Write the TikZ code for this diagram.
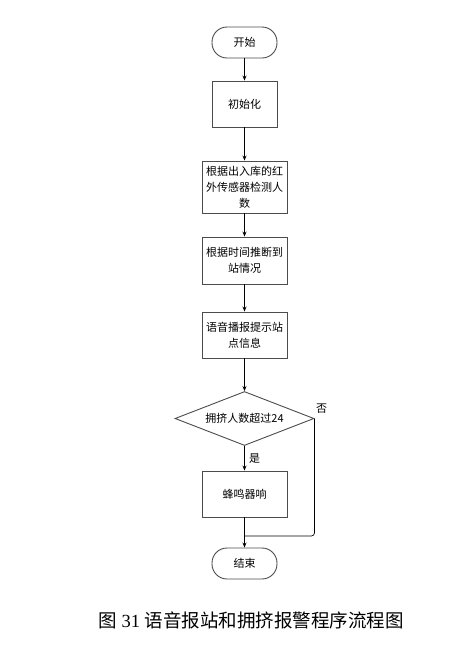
\documentclass[tikz,border=0pt]{standalone}
\usepackage{fontspec}
\setmainfont{Liberation Serif}
\newfontfamily\cjk{Noto Sans CJK SC}
\usetikzlibrary{shapes.geometric,arrows.meta}
\begin{document}
\begin{tikzpicture}[x=1pt,y=-1pt,
  font=\cjk\fontsize{11}{16}\selectfont,
  base/.style={draw=black!70,line width=0.9pt,fill=white,inner sep=1pt,align=center},
  term/.style={base,rounded corners=15pt,minimum width=65pt,minimum height=31pt},
  proc/.style={base,minimum width=85pt},
  dec/.style={base,diamond,aspect=2.6,minimum width=139pt,minimum height=54pt},
  conn/.style={line width=0.7pt,-{Stealth[length=5pt,width=4pt]}},
  lbl/.style={inner sep=0pt}]
\useasboundingbox (0,0) rectangle (465,649);
\node[term] (start) at (244.5,42.5) {开始};
\node[proc,minimum width=65pt,minimum height=46pt] (init) at (244.5,104) {初始化};
\node[proc,minimum height=52pt] (sens) at (244.5,187) {根据出入库的红\\外传感器检测人\\数};
\node[proc,minimum height=47pt] (time) at (244.5,260.5) {根据时间推断到\\站情况};
\node[proc,minimum height=46pt] (voice) at (244.5,335) {语音播报提示站\\点信息};
\node[dec] (dec) at (244.5,418.5) {拥挤人数超过24};
\node[proc,minimum height=46pt] (buzz) at (244.5,494) {蜂鸣器响};
\node[term] (end) at (244.5,563.5) {结束};
\coordinate (corner) at (dec.east |- 0,536);
\coordinate (merge) at (244.5,536);
\draw[conn] (start) -- (init);
\draw[conn] (init) -- (sens);
\draw[conn] (sens) -- (time);
\draw[conn] (time) -- (voice);
\draw[conn] (voice) -- (dec);
\draw[conn] (dec) -- (buzz);
\draw[conn] (buzz) -- (end);
\draw[line width=0.7pt,rounded corners=3pt] (dec.east) -- (corner) -- (merge);
\node[lbl,anchor=south west] (no) at (316,414) {否};
\node[lbl,anchor=west] (yes) at (249,459) {是};
\node[lbl,font=\fontsize{18.5}{22}\selectfont] (cap) at (251,620) {{\cjk 图} 31 {\cjk 语音报站和拥挤报警程序流程图}};
\end{tikzpicture}
\end{document}
